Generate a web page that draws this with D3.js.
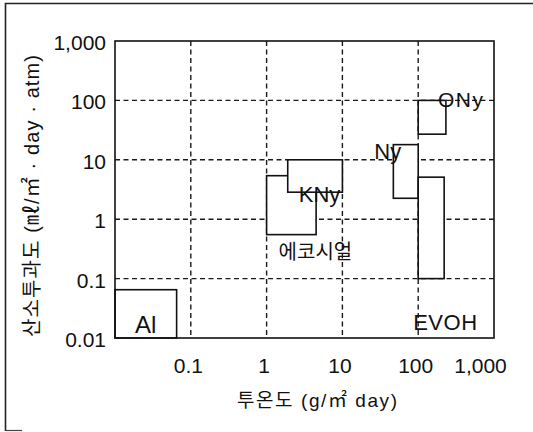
<!DOCTYPE html>
<html><head><meta charset="utf-8">
<script src="https://cdn.jsdelivr.net/npm/d3@7"></script>
<style>
html,body{margin:0;padding:0;background:#fff;}
svg{display:block;}
text{font-family:"Liberation Sans",Arial,"Noto Sans CJK KR",sans-serif;fill:#111;}
</style></head>
<body>
<svg id="c" width="533" height="432"></svg>
<script>
// ---- data ----
const materials = ["Al", "에코시얼", "KNy", "Ny", "EVOH", "ONy"];
const waterMin  = [0.01, 1.0, 1.9, 47, 100, 100];     // x: 투온도 (g/㎡ day)
const waterMax  = [0.065, 4.5, 10, 100, 220, 232];
const oxyMin    = [0.01, 0.55, 2.85, 2.25, 0.1, 27];  // y: 산소투과도
const oxyMax    = [0.065, 5.4, 10, 18, 5.1, 100];
const xTicks = [0.1, 1, 10, 100, 1000];
const xTickLabels = ["0.1", "1", "10", "100", "1,000"];
const yTicks = [0.01, 0.1, 1, 10, 100, 1000];
const yTickLabels = ["0.01", "0.1", "1", "10", "100", "1,000"];
const gridValues = [0.1, 1, 10, 100];
const xTitle = "투온도 (g/㎡ day)";
const yTitle = "산소투과도 (㎖/㎡ · day · atm)";

// ---- layout ----
const L = 115, R = 494, T = 41, B = 338;
const svg = d3.select("#c");
const x = d3.scaleLog().domain([0.01, 1000]).range([L, R]);
const y = d3.scaleLog().domain([0.01, 1000]).range([B, T]);

// outer frame
svg.append("path").attr("d", "M5.5,431 L5.5,3.5 L533,3.5").attr("fill", "none")
  .attr("stroke", "#222").attr("stroke-width", 1.6);
svg.append("line").attr("x1", 5.5).attr("x2", 22).attr("y1", 430.5).attr("y2", 430.5)
  .attr("stroke", "#444").attr("stroke-width", 1.2);

// gridlines
const g = svg.append("g");
g.selectAll("line.vx").data(gridValues).join("line")
  .attr("x1", d => x(d)).attr("x2", d => x(d)).attr("y1", T).attr("y2", B)
  .attr("stroke", "#1a1a1a").attr("stroke-width", 1.4).attr("stroke-dasharray", "5,3.5");
g.selectAll("line.hy").data(gridValues).join("line")
  .attr("y1", d => y(d)).attr("y2", d => y(d)).attr("x1", L).attr("x2", R)
  .attr("stroke", "#1a1a1a").attr("stroke-width", 1.4).attr("stroke-dasharray", "5,3.5");

// rectangles (white filled, drawn in order)
const idx = d3.range(materials.length);
svg.append("g").selectAll("rect").data(idx).join("rect")
  .attr("x", i => x(waterMin[i]))
  .attr("y", i => y(oxyMax[i]))
  .attr("width", i => x(waterMax[i]) - x(waterMin[i]))
  .attr("height", i => y(oxyMin[i]) - y(oxyMax[i]))
  .attr("fill", "#fff").attr("stroke", "#111").attr("stroke-width", 1.6);

// plot box
svg.append("rect").attr("x", L).attr("y", T).attr("width", R - L).attr("height", B - T)
  .attr("fill", "none").attr("stroke", "#111").attr("stroke-width", 1.6);

// axes (labels only)
const xAxis = d3.axisBottom(x).tickValues(xTicks).tickSize(0)
  .tickFormat((d, i) => xTickLabels[i]);
const xa = svg.append("g").attr("transform", `translate(0,${B})`).call(xAxis);
xa.select(".domain").remove();
xa.selectAll("text").attr("font-size", 21).attr("y", 35).attr("dy", 0)
  .attr("dx", (d, i) => i === xTicks.length - 1 ? -14 : -3)
  .style("font-family", "'Liberation Sans',Arial,sans-serif").attr("fill", "#111");

const yAxis = d3.axisLeft(y).tickValues(yTicks).tickSize(0)
  .tickFormat((d, i) => yTickLabels[i]);
const ya = svg.append("g").attr("transform", `translate(${L},0)`).call(yAxis);
ya.select(".domain").remove();
ya.selectAll("text").attr("font-size", 21).attr("x", -9).attr("dy", "0.4em")
  .style("font-family", "'Liberation Sans',Arial,sans-serif").attr("fill", "#111");

// axis titles
svg.append("text").attr("x", 317).attr("y", 407).attr("text-anchor", "middle")
  .attr("font-size", 19).attr("textLength", 160).attr("lengthAdjust", "spacing")
  .text(xTitle);
svg.append("text").attr("transform", "translate(39,196) rotate(-90)")
  .attr("text-anchor", "middle").attr("font-size", 20)
  .attr("textLength", 282).attr("lengthAdjust", "spacing").text(yTitle);

// material labels, placed relative to their rectangles
const place = {
  "Al":      i => [x(waterMin[i]) + 20, y(oxyMin[i]) - 5, 24],
  "에코시얼": i => [x(waterMin[i]) + 12, y(oxyMin[i]) + 24, 20],
  "KNy":     i => [x(waterMin[i]) + 11, y(oxyMin[i]) + 10, 22],
  "Ny":      i => [x(waterMin[i]) - 19, y(oxyMax[i]) + 14, 22],
  "EVOH":    i => [x(waterMin[i]) - 5, B - 8, 22],
  "ONy":     i => [x(waterMax[i]) - 8, y(oxyMax[i]) + 6.5, 21]
};
svg.append("g").selectAll("text").data(idx).join("text")
  .each(function(i) {
    const [px, py, fs] = place[materials[i]](i);
    d3.select(this).attr("x", px).attr("y", py).attr("font-size", fs);
  })
  .attr("letter-spacing", i => materials[i] === "ONy" ? 1.5 : (materials[i] === "EVOH" ? 0.5 : 0))
  .text(i => materials[i]);
</script>
</body></html>
